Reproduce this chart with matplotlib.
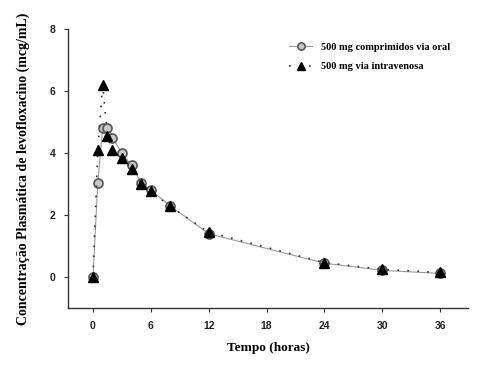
import matplotlib
matplotlib.use("Agg")
import matplotlib.pyplot as plt

# Data
time_h = [0, 0.5, 1, 1.5, 2, 3, 4, 5, 6, 8, 12, 24, 30, 36]
oral = [0.0, 3.05, 4.8, 4.8, 4.5, 4.0, 3.6, 3.05, 2.8, 2.3, 1.4, 0.45, 0.22, 0.12]
iv = [0.0, 4.1, 6.2, 4.55, 4.1, 3.85, 3.5, 3.0, 2.78, 2.28, 1.45, 0.47, 0.25, 0.15]
x_ticks = [0, 6, 12, 18, 24, 30, 36]
y_ticks = [0, 2, 4, 6, 8]
label_oral = "500 mg comprimidos via oral"
label_iv = "500 mg via intravenosa"

fig = plt.figure(figsize=(4.85, 3.66), dpi=100)
ax = fig.add_axes([0.140, 0.158, 0.825, 0.763])

ax.plot(time_h, oral, color="#9a9a9a", lw=0.8, marker="o", ms=6.5,
        mfc="#c8c8c8", mec="#555555", mew=1.2, label=label_oral, zorder=3)
ax.plot(time_h, iv, color="#333333", lw=1.2, ls=(0, (1, 5)), marker="^", ms=7.5,
        mfc="black", mec="black", label=label_iv, zorder=4)

ax.set_xlim(-2.6, 38.9)
ax.set_ylim(-1, 8)
ax.set_xticks(x_ticks)
ax.set_yticks(y_ticks)
for s in ["top", "right"]:
    ax.spines[s].set_visible(False)
for s in ["left", "bottom"]:
    ax.spines[s].set_color("#333333")
    ax.spines[s].set_linewidth(1.0)
ax.tick_params(axis="both", direction="out", length=3, width=0.8, color="#333333",
               labelsize=7.5, pad=6)
for lab in ax.get_xticklabels() + ax.get_yticklabels():
    lab.set_fontfamily("Liberation Sans")
    lab.set_fontweight("bold")
    lab.set_color("#222222")

ax.set_xlabel("Tempo (horas)", fontfamily="Liberation Serif", fontweight="bold",
              fontsize=9.5, labelpad=8)
ax.set_ylabel("Concentração Plasmática de levofloxacino (mcg/mL)",
              fontfamily="Liberation Serif", fontweight="bold", fontsize=10, labelpad=14)

leg = ax.legend(loc="upper left", bbox_to_anchor=(0.53, 0.985), frameon=False,
                prop={"family": "Liberation Serif", "weight": "bold", "size": 7.5},
                handlelength=2.2, labelspacing=1.0, markerscale=0.8)

fig.savefig("out.png", dpi=100)
